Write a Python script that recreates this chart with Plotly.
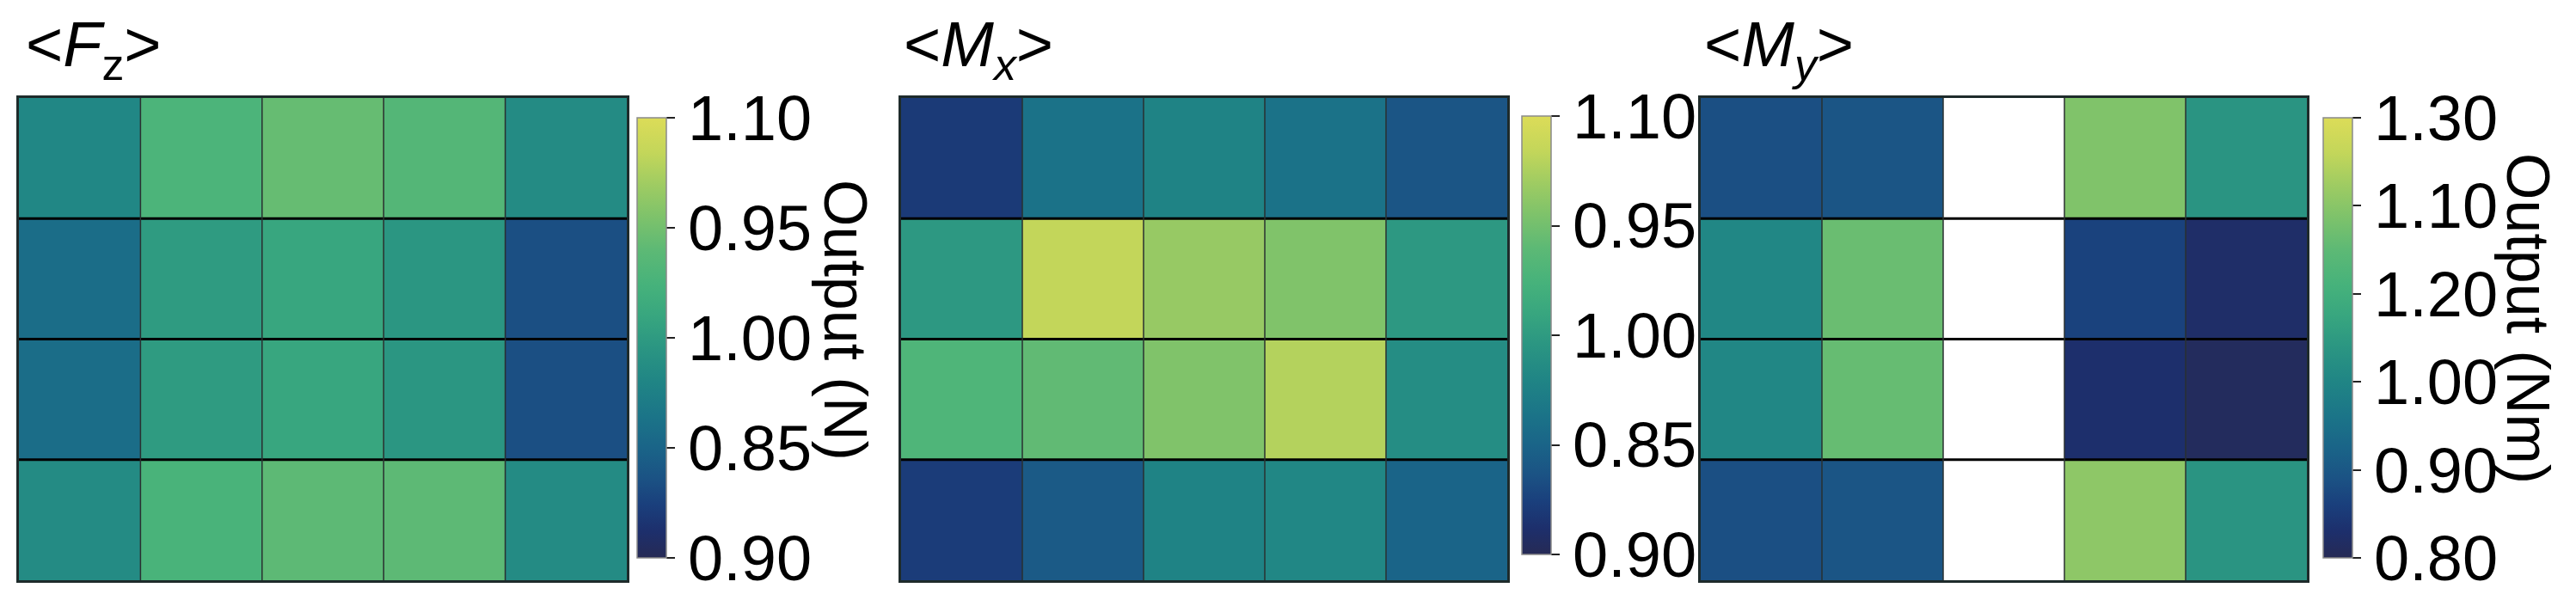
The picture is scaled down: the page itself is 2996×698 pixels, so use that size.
import numpy as np
import plotly.graph_objects as go

W, H = 2996, 698

titles = ["&lt;<i>F</i><sub>z</sub>&gt;", "&lt;<i>M</i><sub><i>x</i></sub>&gt;", "&lt;<i>M</i><sub><i>y</i></sub>&gt;"]

fz = [
    [0.982, 1.028, 1.044, 1.034, 0.986],
    [0.958, 1.000, 1.010, 0.996, 0.934],
    [0.958, 1.000, 1.010, 0.996, 0.934],
    [0.986, 1.026, 1.040, 1.040, 0.986],
]
mx = [
    [0.920, 0.962, 0.978, 0.962, 0.938],
    [0.998, 1.084, 1.066, 1.056, 0.998],
    [1.030, 1.042, 1.056, 1.078, 0.988],
    [0.922, 0.942, 0.978, 0.982, 0.950],
]
my = [
    [0.885, 0.895, None, 1.190, 1.035],
    [1.005, 1.165, None, 0.865, 0.825],
    [1.005, 1.160, None, 0.830, 0.810],
    [0.885, 0.895, None, 1.205, 1.035],
]

ranges = [(0.90, 1.10), (0.90, 1.10), (0.80, 1.30)]
tick_text_fz = ["1.10", "0.95", "1.00", "0.85", "0.90"]
tick_text_mx = ["1.10", "0.95", "1.00", "0.85", "0.90"]
tick_text_my = ["1.30", "1.10", "1.20", "1.00", "0.90", "0.80"]
cbar_titles = ["Output (N)", None, "Output (Nm)"]

colorscale = [
    [0.00, "#262a55"], [0.06, "#1d2f6c"], [0.12, "#1a3f7c"], [0.18, "#1b5284"],
    [0.25, "#1a6488"], [0.32, "#1b7488"], [0.40, "#208585"], [0.48, "#2b9682"],
    [0.55, "#38a67f"], [0.62, "#46b27b"], [0.70, "#5db975"], [0.78, "#80c36a"],
    [0.85, "#a0cc62"], [0.92, "#c3d65a"], [1.00, "#dcdc58"],
]

data = [fz, mx, my]
ticktexts = [tick_text_fz, tick_text_mx, tick_text_my]

# layout in pixels
panel_x = [(14, 721), (1040, 1745), (1970, 2675)]
panel_y = (106, 667)
cbar_x = [733, 1762, 2694]
cbar_y = [(129, 641), (127, 637), (129, 641)]
title_x = [20, 1041, 1972]
cbtitle_pos = [(975, 364), None, (2932, 362)]

FONT = "Liberation Sans, Arial, sans-serif"

fig = go.Figure()
shapes = []
annotations = []
for k in range(3):
    z = np.array(data[k], dtype=float)
    nr, nc = z.shape
    lo, hi = ranges[k]
    tt = ticktexts[k]
    tv = list(np.linspace(hi, lo, len(tt)))
    ax = "" if k == 0 else str(k + 1)
    y0, y1 = cbar_y[k]
    fig.add_trace(go.Heatmap(
        z=z, x=list(range(nc)), y=list(range(nr)),
        zmin=lo, zmax=hi, colorscale=colorscale,
        xaxis="x" + ax, yaxis="y" + ax,
        hoverongaps=False,
        colorbar=dict(
            x=cbar_x[k] / W, xanchor="left", xpad=0, ypad=0,
            y=1 - (y0 + y1) / 2 / H, yanchor="middle",
            len=(y1 - y0), lenmode="pixels", thickness=34,
            outlinewidth=1.5, outlinecolor="#8a8a8a",
            tickmode="array", tickvals=tv, ticktext=tt,
            ticks="outside", ticklen=10, tickwidth=2, tickcolor="#222",
            tickfont=dict(family=FONT, size=74, color="black"),
        ),
    ))
    fig.update_layout(**{
        "xaxis" + ax: dict(domain=[panel_x[k][0] / W, panel_x[k][1] / W],
                           range=[-0.5, nc - 0.5], showticklabels=False, ticks="",
                           showgrid=False, zeroline=False, showline=True, mirror=True,
                           linecolor="#1e2b2b", linewidth=2.5, anchor="y" + ax),
        "yaxis" + ax: dict(domain=[1 - panel_y[1] / H, 1 - panel_y[0] / H],
                           range=[nr - 0.5, -0.5], showticklabels=False, ticks="",
                           showgrid=False, zeroline=False, showline=True, mirror=True,
                           linecolor="#1e2b2b", linewidth=2.5, anchor="x" + ax),
    })
    # cell grid lines
    for i in range(1, nr):
        shapes.append(dict(type="line", xref="x" + ax, yref="y" + ax,
                           x0=-0.5, x1=nc - 0.5, y0=i - 0.5, y1=i - 0.5,
                           line=dict(color="#000000", width=3)))
    for j in range(1, nc):
        shapes.append(dict(type="line", xref="x" + ax, yref="y" + ax,
                           x0=j - 0.5, x1=j - 0.5, y0=-0.5, y1=nr - 0.5,
                           line=dict(color="#2a3030", width=1.5)))
    annotations.append(dict(text=titles[k], xref="paper", yref="paper",
                            x=title_x[k] / W, y=1 - 98 / H, xanchor="left", yanchor="bottom",
                            showarrow=False, font=dict(family=FONT, size=74, color="black")))
    if cbar_titles[k]:
        cx, cy = cbtitle_pos[k]
        annotations.append(dict(text=cbar_titles[k], xref="paper", yref="paper",
                                x=cx / W, y=1 - cy / H, xanchor="center", yanchor="middle",
                                textangle=90, showarrow=False,
                                font=dict(family=FONT, size=70, color="black")))

fig.update_layout(width=W, height=H, margin=dict(l=0, r=0, t=0, b=0),
                  paper_bgcolor="white", plot_bgcolor="white",
                  shapes=shapes, annotations=annotations, showlegend=False)
fig.write_html("out.html")
